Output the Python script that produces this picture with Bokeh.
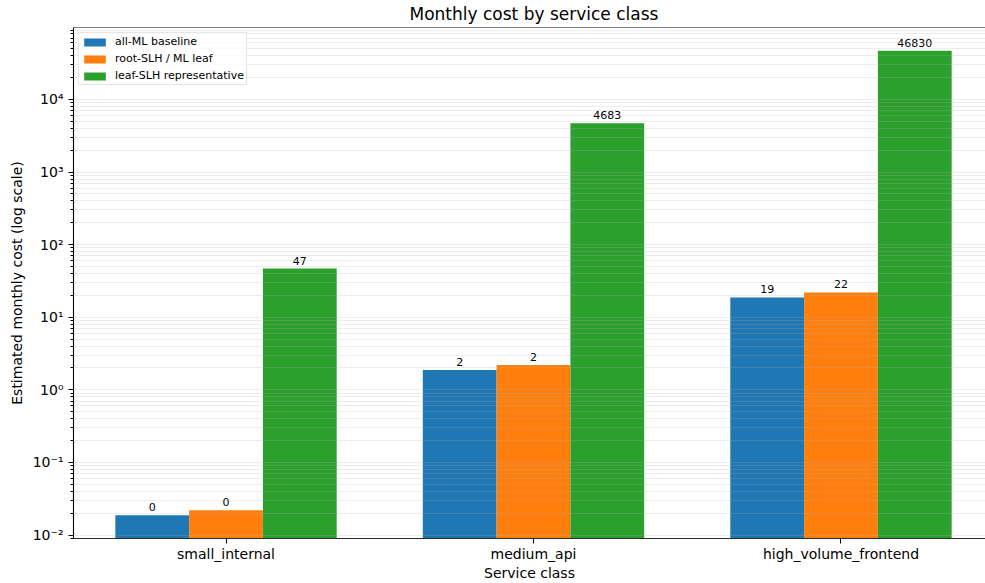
import math

from bokeh.core.properties import value
from bokeh.embed import file_html
from bokeh.models import ColumnDataSource, FixedTicker, Range1d, Span
from bokeh.plotting import figure
from bokeh.resources import INLINE

# Monthly cost estimates per service class
service_classes = ["small_internal", "medium_api", "high_volume_frontend"]
all_ml_baseline = [0.0187, 1.87, 18.7]
root_slh_ml_leaf = [0.0219, 2.19, 21.9]
leaf_slh_representative = [46.83, 4683.0, 46830.0]

series_names = ["all-ML baseline", "root-SLH / ML leaf", "leaf-SLH representative"]
series_values = [all_ml_baseline, root_slh_ml_leaf, leaf_slh_representative]
series_colors = ["#1f77b4", "#ff7f0e", "#2ca02c"]

y_tick_exponents = [-2, -1, 0, 1, 2, 3, 4]
y_tick_labels = ["10⁻²", "10⁻¹", "10⁰", "10¹", "10²", "10³", "10⁴"]

FONT = "DejaVu Sans"
WIDTH, HEIGHT = 985, 583
LEFT, TOP, BOTTOM = 73, 27, 45

bar_width = 0.24
offsets = [-bar_width, 0.0, bar_width]

# log-scale y limits with a 5% margin in decades
all_vals = [v for s in series_values for v in s]
lo, hi = math.log10(min(all_vals)), math.log10(max(all_vals))
pad = 0.05 * (hi - lo)
y_lo, y_hi = 10 ** (lo - pad), 10 ** (hi + pad)

# x limits with a 5% margin; the frame runs to the right page edge
n = len(service_classes)
x_min = -1.5 * bar_width
x_max = (n - 1) + 1.5 * bar_width
x_pad = 0.05 * (x_max - x_min)
x_lo, x_full_hi = x_min - x_pad, x_max + x_pad
frame_w = WIDTH - LEFT
x_hi = x_lo + (x_full_hi - x_lo) * frame_w / (frame_w + 8)

p = figure(
    width=WIDTH,
    height=HEIGHT,
    y_axis_type="log",
    x_range=Range1d(x_lo, x_hi),
    y_range=Range1d(y_lo, y_hi),
    output_backend="svg",
    toolbar_location=None,
    min_border_left=LEFT,
    min_border_right=0,
    min_border_top=TOP,
    min_border_bottom=BOTTOM,
)
p.background_fill_color = "white"
p.border_fill_color = "white"
p.outline_line_color = None

# bars
for name, vals, off, color in zip(series_names, series_values, offsets, series_colors):
    src = ColumnDataSource(dict(
        x=[i + off for i in range(n)],
        top=vals,
        bottom=[y_lo] * n,
        label=[f"{v:.0f}" for v in vals],
    ))
    p.vbar(x="x", top="top", bottom="bottom", width=bar_width, source=src,
           fill_color=color, line_color=None, legend_label=name)
    p.text(x="x", y="top", text="label", source=src, text_align="center",
           text_baseline="bottom", y_offset=-4, text_font=value(FONT),
           text_font_size="11px", text_color="black")

# top spine
p.add_layout(Span(location=y_hi, dimension="width", line_color="black", line_width=1.1))

# y axis ticks and grid (minor ticks kept inside the visible range)
major = [10.0 ** e for e in y_tick_exponents]
minor = [m * 10.0 ** e for e in range(-3, 5) for m in range(2, 10)]
minor = [t for t in minor if y_lo <= t <= y_hi]
yticker = FixedTicker(ticks=major, minor_ticks=minor)
p.yaxis.ticker = yticker
p.ygrid.ticker = yticker
p.yaxis.major_label_overrides = {t: lab for t, lab in zip(major, y_tick_labels)}

p.ygrid.grid_line_color = "#b0b0b0"
p.ygrid.grid_line_alpha = 0.3
p.ygrid.grid_line_width = 0.8
p.ygrid.minor_grid_line_color = "#b0b0b0"
p.ygrid.minor_grid_line_alpha = 0.3
p.ygrid.minor_grid_line_width = 0.8
p.ygrid.level = "guide"
p.xgrid.visible = False

# x axis categories
p.xaxis.ticker = FixedTicker(ticks=list(range(n)), minor_ticks=[])
p.xaxis.major_label_overrides = {i: c for i, c in enumerate(service_classes)}

for ax in (p.xaxis, p.yaxis):
    ax.axis_line_color = "black"
    ax.axis_line_width = 1.1
    ax.major_tick_line_color = "black"
    ax.major_tick_in = 0
    ax.major_tick_out = 5
    ax.minor_tick_in = 0
    ax.minor_tick_out = 3
    ax.major_label_text_font = FONT
    ax.major_label_text_font_size = "14px"
    ax.major_label_text_color = "black"
    ax.axis_label_text_font = FONT
    ax.axis_label_text_font_size = "14px"
    ax.axis_label_text_font_style = "normal"
    ax.axis_label_text_color = "black"

p.xaxis.major_label_standoff = 2
p.xaxis.axis_label = "Service class"
p.xaxis.axis_label_standoff = 0
p.yaxis.major_label_standoff = 5
p.yaxis.axis_label = "Estimated monthly cost (log scale)"
p.yaxis.axis_label_standoff = 5

# title, centred over the full axes width (part of which runs off the page)
p.title.text = "Monthly cost by service class"
p.title.align = "left"
p.title.offset = 336
p.title.vertical_align = "top"
p.title.text_font = FONT
p.title.text_font_size = "17px"
p.title.text_font_style = "normal"
p.title.text_color = "black"
p.title.standoff = 4

# legend
lg = p.legend[0]
lg.location = "top_left"
lg.margin = 5
lg.padding = 2
lg.spacing = 4
lg.label_height = 12
lg.glyph_height = 10
lg.glyph_width = 27
lg.label_standoff = 7
lg.label_text_font = FONT
lg.label_text_font_size = "11px"
lg.label_text_color = "black"
lg.border_line_color = "#cccccc"
lg.border_line_width = 1
lg.background_fill_color = "white"
lg.background_fill_alpha = 0.8

open("out.html", "w").write(file_html(p, INLINE))
